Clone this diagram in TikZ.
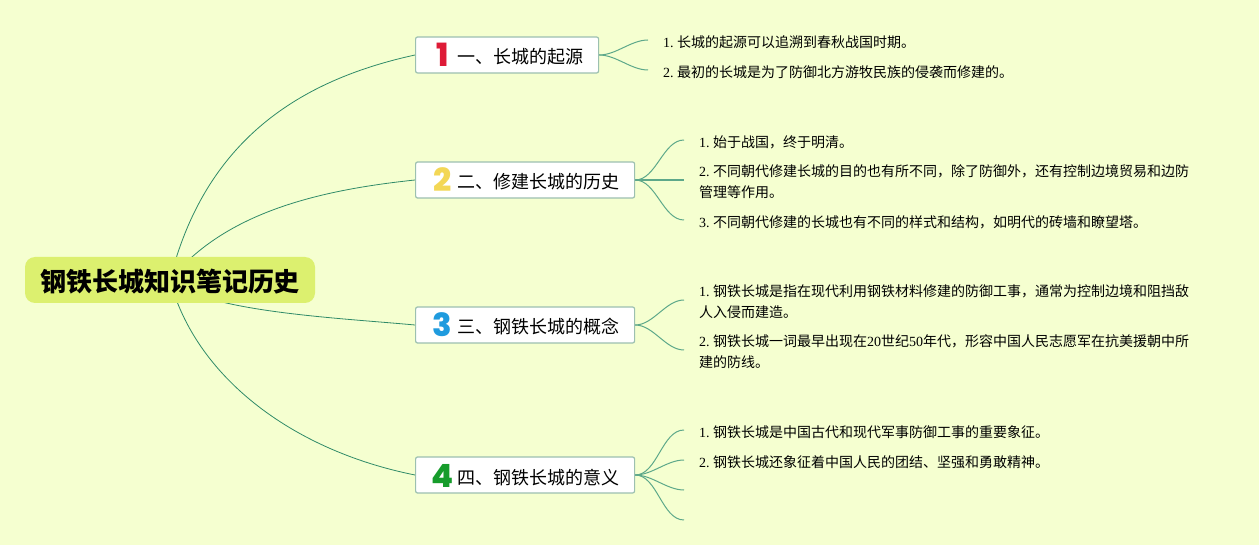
\documentclass[tikz,border=0pt]{standalone}
\usepackage{fontspec}
\setmainfont{Liberation Serif}
\newfontfamily\zhfont{Noto Sans CJK SC}
\newfontfamily\numfont{Poppins}[BoldFont=* ExtraBold]
\newcommand{\zh}[1]{{\zhfont #1}}
\newcommand{\numicon}[2]{\makebox[27pt][c]{\raisebox{-3pt}[0pt][0pt]{\fontsize{32}{32}\numfont\bfseries\color{#1}#2}\hspace{3pt}}}
\usetikzlibrary{backgrounds}
\definecolor{paper}{HTML}{F5FFD0}
\definecolor{rootfill}{HTML}{DCF06F}
\definecolor{edgegreen}{HTML}{2F8A68}
\definecolor{twiggreen}{HTML}{5DA88A}
\definecolor{boxline}{HTML}{9CC0B0}
\definecolor{numred}{HTML}{DE1B37}
\definecolor{numyellow}{HTML}{F3D755}
\definecolor{numblue}{HTML}{1F9BDE}
\definecolor{numgreen}{HTML}{169C2B}

\begin{document}
\frenchspacing
\begin{tikzpicture}[
        x=1pt, y=-1pt,
        root/.style={rectangle, fill=rootfill, minimum width=290pt, minimum height=46pt, rounded corners=10pt, text height=24pt, text depth=0pt, font=\fontsize{26}{30}\zhfont\bfseries},
        branch/.style={rectangle, draw=boxline, line width=1.2pt, fill=white, minimum height=36pt, inner xsep=15pt, inner ysep=0pt, rounded corners=2pt, anchor=west, text height=18pt, text depth=0pt, font=\fontsize{18}{22}\zhfont},
        leaf/.style={rectangle, anchor=west, inner xsep=15pt, inner ysep=0pt, align=left, font=\fontsize{14}{21}\selectfont},
        limb/.style={edgegreen, line width=0.8pt},
        twig/.style={twiggreen, line width=1pt, out=0, in=180, looseness=0.85}
    ]
        \useasboundingbox (0,0) rectangle (1259,545);

        \node[root] (root) at (170,280) {钢铁长城知识笔记历史};

        \node[branch] (origin) at (415,55) {\numicon{numred}{1}一、长城的起源};
        \node[branch] (history) at (415,180) {\numicon{numyellow}{2}二、修建长城的历史};
        \node[branch] (concept) at (415,325) {\numicon{numblue}{3}三、钢铁长城的概念};
        \node[branch] (meaning) at (415,475) {\numicon{numgreen}{4}四、钢铁长城的意义};

        \node[leaf] (origina) at (648,42) {1. \zh{长城的起源可以追溯到春秋战国时期。}};
        \node[leaf] (originb) at (648,72) {2. \zh{最初的长城是为了防御北方游牧民族的侵袭而修建的。}};

        \node[leaf] (historya) at (684,142) {1. \zh{始于战国，终于明清。}};
        \node[leaf] (historyb) at (684,182) {2. \zh{不同朝代修建长城的目的也有所不同，除了防御外，还有控制边境贸易和边防}\\\zh{管理等作用。}};
        \node[leaf] (historyc) at (684,222) {3. \zh{不同朝代修建的长城也有不同的样式和结构，如明代的砖墙和瞭望塔。}};

        \node[leaf] (concepta) at (684,302) {1. \zh{钢铁长城是指在现代利用钢铁材料修建的防御工事，通常为控制边境和阻挡敌}\\\zh{人入侵而建造。}};
        \node[leaf] (conceptb) at (684,352) {2. \zh{钢铁长城一词最早出现在}20\zh{世纪}50\zh{年代，形容中国人民志愿军在抗美援朝中所}\\\zh{建的防线。}};

        \node[leaf] (meaninga) at (684,432) {1. \zh{钢铁长城是中国古代和现代军事防御工事的重要象征。}};
        \node[leaf] (meaningb) at (684,462) {2. \zh{钢铁长城还象征着中国人民的团结、坚强和勇敢精神。}};
        \coordinate (meaningc) at (684,490);
        \coordinate (meaningd) at (684,520);

        \begin{pgfonlayer}{background}
            \fill[paper] (0,0) rectangle (1259,545);

            \draw[limb] (root.center) .. controls (205,140) and (300,80) .. (origin.west);
            \draw[limb] (root.center) .. controls (225,212) and (320,190) .. (history.west);
            \draw[limb] (root.center) .. controls (205,312) and (340,318) .. (concept.west);
            \draw[limb] (root.center) .. controls (195,375) and (290,450) .. (meaning.west);

            \draw[twig] (origin.east) to ([yshift=2pt]origina.west);
            \draw[twig] (origin.east) to ([yshift=2pt]originb.west);
            \draw[twig] (history.east) to ([yshift=2pt]historya.west);
            \draw[twiggreen, line width=1.6pt] (history.east) -- ([yshift=2pt]historyb.west);
            \draw[twig] (history.east) to ([yshift=2pt]historyc.west);
            \draw[twig] (concept.east) to ([yshift=2pt]concepta.west);
            \draw[twig] (concept.east) to ([yshift=2pt]conceptb.west);
            \draw[twig] (meaning.east) to ([yshift=2pt]meaninga.west);
            \draw[twig] (meaning.east) to ([yshift=2pt]meaningb.west);
            \draw[twig] (meaning.east) to (meaningc);
            \draw[twig] (meaning.east) to (meaningd);
        \end{pgfonlayer}
    \end{tikzpicture}
\end{document}
